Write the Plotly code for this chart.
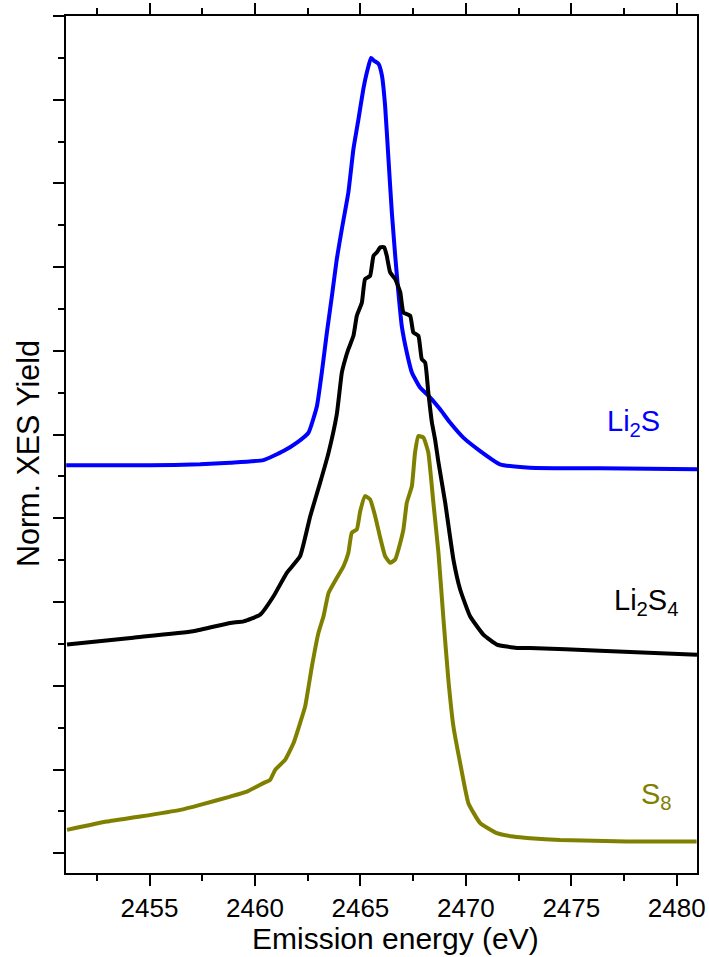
import plotly.graph_objects as go

# ---- data (y in tick-spacing units, offset stacked) ----
li2s_energy = [2451.05, 2455.0, 2457.4, 2458.83, 2460.40, 2461.35, 2461.99, 2462.54, 2462.94,
               2463.17, 2463.41, 2463.65, 2463.88, 2464.12, 2464.43, 2464.67, 2464.91, 2465.14,
               2465.31, 2465.50, 2465.65, 2465.86, 2466.02, 2466.17, 2466.33, 2466.49, 2466.65,
               2466.80, 2466.96, 2467.20, 2467.44, 2467.83, 2468.31, 2468.78, 2469.25, 2469.88,
               2470.68, 2471.62, 2473.04, 2476.36, 2480.96]
li2s_yield = [4.633, 4.633, 4.645, 4.665, 4.696, 4.804, 4.904, 5.024, 5.342,
              5.742, 6.220, 6.658, 7.097, 7.456, 7.895, 8.413, 8.772, 9.130,
              9.330, 9.498, 9.465, 9.429, 9.290, 8.931, 8.293, 7.656, 7.136,
              6.699, 6.299, 5.981, 5.742, 5.562, 5.443, 5.303, 5.144, 4.964,
              4.804, 4.645, 4.605, 4.597, 4.585]

li2s4_energy = [2451.09, 2454.23, 2457.07, 2458.83, 2459.46, 2460.25, 2460.88, 2461.51, 2462.14,
                2462.62, 2463.09, 2463.49, 2463.88, 2464.12, 2464.28, 2464.43, 2464.67, 2464.83,
                2465.07, 2465.22, 2465.46, 2465.62, 2465.78, 2465.94, 2466.13, 2466.25, 2466.41,
                2466.65, 2466.89, 2467.04, 2467.36, 2467.51, 2467.75, 2467.91, 2468.07, 2468.22,
                2468.39, 2468.54, 2468.70, 2469.02, 2469.41, 2469.73, 2470.20, 2470.83, 2471.47,
                2472.41, 2473.04, 2476.36, 2480.96]
li2s4_yield = [2.492, 2.575, 2.651, 2.751, 2.770, 2.850, 3.069, 3.349, 3.548,
               4.026, 4.426, 4.785, 5.243, 5.742, 5.901, 6.020, 6.180, 6.419,
               6.579, 6.858, 6.897, 7.136, 7.177, 7.237, 7.237, 7.136, 6.938,
               6.858, 6.699, 6.459, 6.419, 6.220, 6.180, 5.901, 5.861, 5.502,
               5.144, 4.944, 4.669, 4.187, 3.508, 3.150, 2.830, 2.611, 2.492,
               2.452, 2.452, 2.420, 2.372]

s8_energy = [2451.09, 2452.98, 2454.56, 2456.46, 2457.40, 2458.83, 2459.62, 2460.40, 2460.72,
             2460.96, 2461.43, 2461.83, 2462.14, 2462.38, 2462.70, 2463.01, 2463.25, 2463.49,
             2463.88, 2464.20, 2464.43, 2464.59, 2464.83, 2464.99, 2465.22, 2465.46, 2465.70,
             2465.94, 2466.17, 2466.41, 2466.65, 2466.89, 2467.04, 2467.20, 2467.44, 2467.59,
             2467.75, 2467.99, 2468.22, 2468.46, 2468.70, 2468.94, 2469.17, 2469.41, 2469.73,
             2470.12, 2470.68, 2471.47, 2472.25, 2473.04, 2474.47, 2477.63, 2480.94]
s8_yield = [0.279, 0.378, 0.438, 0.518, 0.578, 0.677, 0.737, 0.837, 0.877,
            0.996, 1.116, 1.316, 1.555, 1.754, 2.232, 2.632, 2.830, 3.110,
            3.289, 3.428, 3.589, 3.828, 3.867, 4.086, 4.266, 4.226, 4.026,
            3.768, 3.548, 3.469, 3.508, 3.708, 3.867, 4.187, 4.385, 4.785,
            4.983, 4.964, 4.785, 4.187, 3.589, 2.791, 2.073, 1.514, 1.077,
            0.598, 0.359, 0.239, 0.199, 0.179, 0.159, 0.139, 0.139]

x_tick_values = [2455, 2460, 2465, 2470, 2475, 2480]
x_tick_labels = ["2455", "2460", "2465", "2470", "2475", "2480"]

series_labels = ["Li<sub>2</sub>S", "Li<sub>2</sub>S<sub>4</sub>", "S<sub>8</sub>"]
series_colors = ["#0000ff", "#000000", "#808000"]

FONT = "Arial, Liberation Sans, sans-serif"

fig = go.Figure()
for xs, ys, col in [(li2s_energy, li2s_yield, series_colors[0]),
                    (li2s4_energy, li2s4_yield, series_colors[1]),
                    (s8_energy, s8_yield, series_colors[2])]:
    fig.add_trace(go.Scatter(x=xs, y=ys, mode="lines",
                             line=dict(color=col, width=4, shape="spline", smoothing=0.4),
                             showlegend=False))

label_pos = [(2476.6, 5.135), (2476.95, 2.996), (2478.2, 0.685)]
for (lx, ly), txt, col in zip(label_pos, series_labels, series_colors):
    fig.add_annotation(x=lx, y=ly, xref="x", yref="y", text=txt, showarrow=False,
                       xanchor="left", yanchor="middle",
                       font=dict(family=FONT, size=29, color=col))

# axis titles as annotations (positioned as in the reference)
fig.add_annotation(x=-0.060, y=0.489, xref="paper", yref="paper", text="Norm. XES Yield",
                   textangle=-90, showarrow=False, xanchor="center", yanchor="middle",
                   font=dict(family=FONT, size=30.5, color="black"))
fig.add_annotation(x=0.522, y=-0.0764, xref="paper", yref="paper", text="Emission energy (eV)",
                   showarrow=False, xanchor="center", yanchor="middle",
                   font=dict(family=FONT, size=30, color="black"))

fig.update_xaxes(range=[2451.04, 2480.96], tickvals=x_tick_values, ticktext=x_tick_labels,
                 ticks="outside", ticklen=11, tickwidth=2, tickcolor="black",
                 showline=True, linewidth=2, linecolor="black", mirror="ticks",
                 showgrid=False, zeroline=False, automargin=False, ticklabeloverflow="allow",
                 minor=dict(dtick=2.5, tick0=2450, ticks="outside", ticklen=6, tickwidth=2,
                            tickcolor="black", showgrid=False),
                 tickfont=dict(family=FONT, size=26, color="black"))
fig.update_yaxes(range=[-0.236, 10.0], dtick=1, tick0=0, showticklabels=False,
                 ticks="outside", ticklen=11, tickwidth=2, tickcolor="black",
                 showline=True, linewidth=2, linecolor="black", mirror=True,
                 showgrid=False, zeroline=False, automargin=False,
                 minor=dict(dtick=0.5, tick0=0, ticks="outside", ticklen=6, tickwidth=2,
                            tickcolor="black", showgrid=False))

fig.update_layout(width=709, height=957, margin=dict(l=66, r=12, t=16, b=84),
                  plot_bgcolor="white", paper_bgcolor="white")

fig.write_html("out.html", config={"displayModeBar": False},
               post_script="document.body.style.margin='0px';"
                           "document.documentElement.style.overflow='hidden';")
